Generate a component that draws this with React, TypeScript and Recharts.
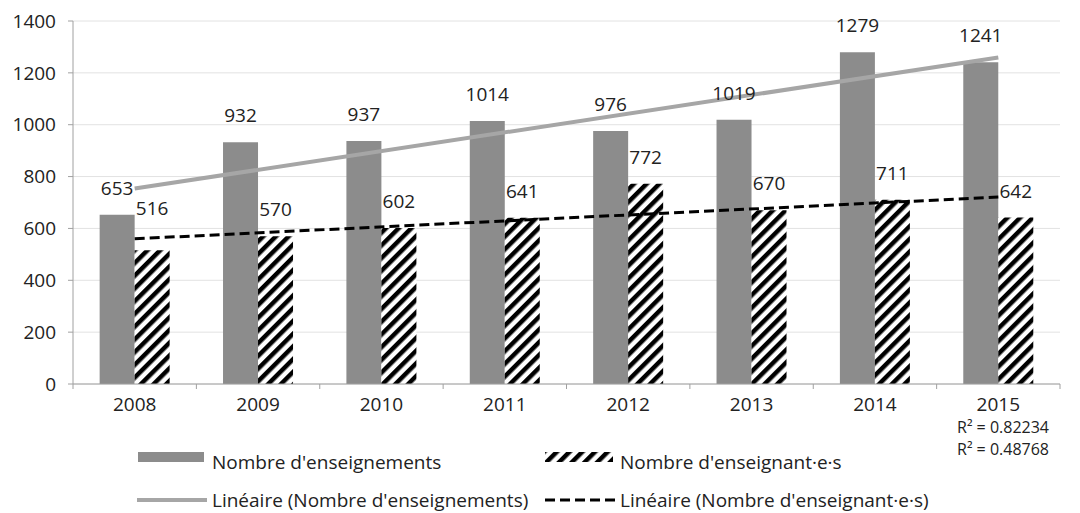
import React from "react";
import {
  ComposedChart,
  Bar,
  XAxis,
  YAxis,
  CartesianGrid,
  ReferenceLine,
  LabelList,
} from "recharts";

const years = ["2008", "2009", "2010", "2011", "2012", "2013", "2014", "2015"];
const enseignements = [653, 932, 937, 1014, 976, 1019, 1279, 1241];
const enseignants = [516, 570, 602, 641, 772, 670, 711, 642];
// trend line end values (first and last year)
const trendEnseignements = [754, 1259];
const trendEnseignants = [560, 721];
const r2Labels = ["R² = 0.82234", "R² = 0.48768"];
const yTicks = [0, 200, 400, 600, 800, 1000, 1200, 1400];

const data = years.map((year, i) => ({
  year,
  enseignements: enseignements[i],
  enseignants: enseignants[i],
}));

const FONT = "'Open Sans', 'Noto Sans', sans-serif";
const FS = 19;
const W = 1080;
const H = 513;
const PLOT_LEFT = 73;
const PLOT_RIGHT = 1060;
const PLOT_BOTTOM = 384;
const BAND = (PLOT_RIGHT - PLOT_LEFT) / years.length;

// the first teacher label was moved up by hand in the original, off the trend line
const LABEL_LIFT: Record<number, number> = { 0: 15 };

function BarLabel(props: any) {
  const { x, y, width, value, index, lift } = props;
  const up = lift ? LABEL_LIFT[index] || 0 : 0;
  return (
    <text
      x={x + width / 2}
      y={y - 20 - up}
      textAnchor="middle"
      fontSize={FS}
      fill="#222"
      fontFamily={FONT}
    >
      {value}
    </text>
  );
}

function CatTick(props: any) {
  const { x, y, payload, index } = props;
  return (
    <g>
      <line x1={x - BAND / 2} y1={y - 8} x2={x - BAND / 2} y2={y - 3} stroke="#a0a0a0" />
      {index === years.length - 1 && (
        <line x1={x + BAND / 2} y1={y - 8} x2={x + BAND / 2} y2={y - 3} stroke="#a0a0a0" />
      )}
      <text x={x} y={y + 19} textAnchor="middle" fontSize={FS} fill="#222" fontFamily={FONT}>
        {payload.value}
      </text>
    </g>
  );
}

function LegendBox() {
  const text: React.CSSProperties = {
    position: "absolute",
    fontSize: FS,
    color: "#222",
    fontFamily: FONT,
    whiteSpace: "nowrap",
    lineHeight: "22px",
  };
  return (
    <div style={{ position: "absolute", left: 0, top: 420, width: W, height: 93 }}>
      <svg style={{ position: "absolute", left: 0, top: 0 }} width={W} height={93}>
        <defs>
          <pattern id="hatchLeg" width="9" height="9" patternUnits="userSpaceOnUse" patternTransform="rotate(45)">
            <rect width="9" height="9" fill="#fff" />
            <rect width="4.5" height="9" fill="#000" />
          </pattern>
        </defs>
        <rect x={138} y={32} width={66} height={10} fill="#8c8c8c" />
        <rect x={545} y={32} width={68} height={10} fill="url(#hatchLeg)" />
        <line x1={137} y1={80} x2={207} y2={80} stroke="#a6a6a6" strokeWidth={4} />
        <line x1={545} y1={80} x2={617} y2={80} stroke="#000" strokeWidth={3} strokeDasharray="10 5" />
      </svg>
      <div style={{ ...text, left: 212, top: 31 }}>Nombre d'enseignements</div>
      <div style={{ ...text, left: 620, top: 31 }}>Nombre d'enseignant·e·s</div>
      <div style={{ ...text, left: 212, top: 69 }}>Linéaire (Nombre d'enseignements)</div>
      <div style={{ ...text, left: 620, top: 69 }}>Linéaire (Nombre d'enseignant·e·s)</div>
      <div style={{ ...text, left: 957, top: -4, fontSize: 16, lineHeight: "22px" }}>{r2Labels[0]}</div>
      <div style={{ ...text, left: 957, top: 18, fontSize: 16, lineHeight: "22px" }}>{r2Labels[1]}</div>
    </div>
  );
}

export default function App() {
  return (
    <div style={{ position: "absolute", left: 0, top: 0, width: W, height: H, background: "#fff" }}>
      <ComposedChart
        width={W}
        height={H}
        data={data}
        margin={{ top: 21, right: W - PLOT_RIGHT, bottom: 0, left: 0 }}
        barGap={0}
        barCategoryGap="21.6%"
      >
        <defs>
          <pattern id="hatch" width="9" height="9" patternUnits="userSpaceOnUse" patternTransform="rotate(45)">
            <rect width="9" height="9" fill="#fff" />
            <rect width="4.5" height="9" fill="#000" />
          </pattern>
        </defs>
        <CartesianGrid vertical={false} stroke="#e2e2e2" />
        <XAxis
          dataKey="year"
          stroke="#a0a0a0"
          tickLine={false}
          tick={<CatTick />}
          interval={0}
          height={H - PLOT_BOTTOM}
        />
        <YAxis
          width={PLOT_LEFT}
          domain={[0, 1400]}
          ticks={yTicks}
          stroke="#a0a0a0"
          tickSize={5}
          tickMargin={12}
          tick={{ fontSize: FS, fill: "#222", fontFamily: FONT }}
          interval={0}
        />
        <Bar dataKey="enseignements" fill="#8c8c8c" isAnimationActive={false}>
          <LabelList dataKey="enseignements" content={<BarLabel />} />
        </Bar>
        <Bar dataKey="enseignants" fill="url(#hatch)" isAnimationActive={false}>
          <LabelList dataKey="enseignants" content={<BarLabel lift />} />
        </Bar>
        <ReferenceLine
          segment={[
            { x: years[0], y: trendEnseignements[0] },
            { x: years[years.length - 1], y: trendEnseignements[1] },
          ]}
          stroke="#a6a6a6"
          strokeWidth={4}
        />
        <ReferenceLine
          segment={[
            { x: years[0], y: trendEnseignants[0] },
            { x: years[years.length - 1], y: trendEnseignants[1] },
          ]}
          stroke="#000"
          strokeWidth={3}
          strokeDasharray="10 5"
        />
      </ComposedChart>
      <LegendBox />
    </div>
  );
}
